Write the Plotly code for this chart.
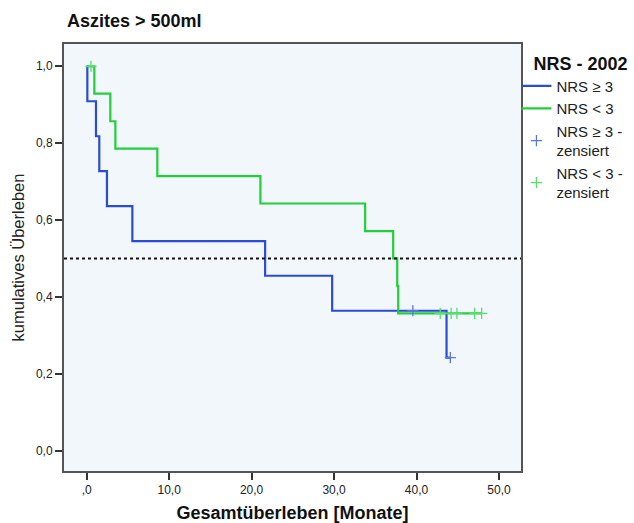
import plotly.graph_objects as go

# Data
blue_t = [0, 0.08, 1.13, 1.53, 2.46, 5.54, 21.64, 29.77, 43.64, 44.1]
blue_s = [1.0, 0.909, 0.818, 0.727, 0.636, 0.545, 0.455, 0.364, 0.242, 0.242]
blue_cens_t = [39.56, 44.1]
blue_cens_s = [0.364, 0.242]

green_t = [0, 0.93, 2.87, 3.48, 8.57, 21.07, 33.77, 37.17, 37.66, 37.78, 47.9]
green_s = [1.0, 0.929, 0.857, 0.786, 0.714, 0.643, 0.571, 0.5, 0.429, 0.357, 0.357]
green_cens_t = [0.52, 42.88, 44.2, 44.9, 47.04, 47.9]
green_cens_s = [1.0, 0.357, 0.357, 0.357, 0.357, 0.357]

x_ticks = [0, 10, 20, 30, 40, 50]
x_ticklabels = [",0", "10,0", "20,0", "30,0", "40,0", "50,0"]
y_ticks = [0, 0.2, 0.4, 0.6, 0.8, 1.0]
y_ticklabels = ["0,0", "0,2", "0,4", "0,6", "0,8", "1,0"]

BLUE = "#2B4BD3"
GREEN = "#22CF3A"
BLUE_L = "#5877E0"
GREEN_L = "#55E06E"
FONT = "Liberation Sans, Arial, sans-serif"

fig = go.Figure()
fig.add_trace(go.Scatter(x=blue_t, y=blue_s, mode="lines", line=dict(shape="hv", color=BLUE, width=2.2),
                         name="NRS ≥ 3"))
fig.add_trace(go.Scatter(x=green_t, y=green_s, mode="lines", line=dict(shape="hv", color=GREEN, width=2.2),
                         name="NRS < 3"))
fig.add_trace(go.Scatter(x=blue_cens_t, y=blue_cens_s, mode="markers",
                         marker=dict(symbol="cross-thin", size=8, line=dict(color=BLUE_L, width=1.3)),
                         name="NRS ≥ 3 -<br>zensiert"))
fig.add_trace(go.Scatter(x=green_cens_t, y=green_cens_s, mode="markers",
                         marker=dict(symbol="cross-thin", size=8, line=dict(color=GREEN_L, width=1.3)),
                         name="NRS < 3 -<br>zensiert"))

fig.add_shape(type="line", xref="paper", x0=0, x1=1, yref="y", y0=0.5, y1=0.5,
              line=dict(color="#111111", width=2, dash="dot"))

fig.update_layout(
    width=634, height=523,
    margin=dict(l=64, r=113, t=44, b=52, autoexpand=False),
    paper_bgcolor="white",
    plot_bgcolor="#F2F7FC",
    font=dict(family=FONT, color="#222222", size=12),
    title=dict(text="<b>Aszites > 500ml</b>", x=67/634, xanchor="left", y=1 - 21/523, yanchor="middle",
               font=dict(size=18, color="#111111")),
    showlegend=True,
    legend=dict(
        x=0.99, xanchor="left", y=0.995, yanchor="top",
        title=dict(text="&nbsp;&nbsp;&nbsp;<b>NRS - 2002</b>", font=dict(size=18, color="#111111")),
        font=dict(size=15, color="#222222"),
        bgcolor="rgba(0,0,0,0)",
        tracegroupgap=0,
        itemwidth=30,
    ),
    xaxis=dict(
        range=[-2.75, 52.67], tickvals=x_ticks, ticktext=x_ticklabels,
        showgrid=False, zeroline=False, showline=True, linecolor="#555555", linewidth=2, mirror=True,
        ticks="outside", ticklen=7, tickcolor="#333333", tickwidth=1.5,
        tickfont=dict(size=12, color="#222222"), automargin=False,
        title=dict(text="<b>Gesamtüberleben [Monate]</b>", font=dict(size=18, color="#111111"), standoff=13),
    ),
    yaxis=dict(
        range=[-0.053, 1.058], tickvals=y_ticks, ticktext=y_ticklabels,
        showgrid=False, zeroline=False, showline=True, linecolor="#555555", linewidth=2, mirror=True,
        ticks="outside", ticklen=7, tickcolor="#333333", tickwidth=1.5,
        tickfont=dict(size=12, color="#222222"), automargin=False,
        title=dict(text="kumulatives Überleben", font=dict(size=16.5, color="#222222"), standoff=7),
    ),
)

fig.write_html("out.html")
